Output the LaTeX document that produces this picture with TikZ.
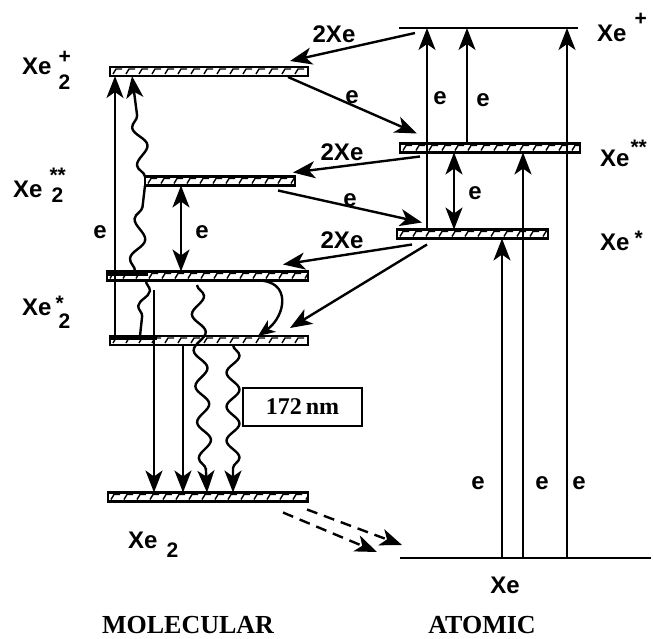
\documentclass[tikz,border=0pt]{standalone}
\usepackage{fontspec}
\newfontfamily\labfont{Liberation Sans}
\newfontfamily\headfont{Liberation Serif}
\usetikzlibrary{arrows.meta,decorations.pathmorphing}
\newcommand{\lift}[2]{\raisebox{#1}{\fontsize{21}{24}\selectfont #2}}
\tikzset{
  lvbar/.style={draw,line width=2.2pt,inner sep=0pt,outer sep=0pt,minimum height=9pt,
    path picture={\foreach \k in {0,...,15}{
      \draw[line width=1.4pt] ([xshift=\k*13pt+3pt,yshift=2pt]path picture bounding box.south west) -- ++(3pt,5pt) -- ++(6pt,0pt);}}},
  arr/.style={line width=2.4pt,-{Stealth[length=22pt,width=17pt,inset=6pt]}},
  darr/.style={line width=2.4pt,{Stealth[length=22pt,width=17pt,inset=6pt]}-{Stealth[length=22pt,width=17pt,inset=6pt]}},
  wave/.style={line width=2.4pt,decorate,decoration={snake,amplitude=6.5pt,segment length=36pt,post length=22pt}},
  lab/.style={font=\labfont\bfseries\fontsize{24}{28}\selectfont,inner sep=0pt},
  headline/.style={font=\headfont\bfseries\fontsize{26}{30}\selectfont,inner sep=0pt}
}
\begin{document}
\begin{tikzpicture}[x=1pt,y=-1pt]
\useasboundingbox (0,0) rectangle (653,639);

% molecular levels
\node[lvbar,minimum width=198pt] (mion) at (209,71.5) {};
\node[lvbar,minimum width=150pt] (mss) at (220,181) {};
\node[lvbar,minimum width=201pt] (msa) at (207.5,276) {};
\node[lvbar,minimum width=198pt] (msb) at (209,340.5) {};
\node[lvbar,minimum width=200pt] (mgr) at (208,497) {};
\draw[line width=4.5pt] (msa.north west) ++(0,-2pt) -- ++(41pt,0);
\draw[line width=4.5pt] (msb.north west) ++(0,-2pt) -- ++(47pt,0);

% atomic levels
\coordinate (ionl) at (399,28);
\coordinate (ionr) at (578,28);
\coordinate (gndl) at (400,558);
\coordinate (gndr) at (651,558);
\draw[line width=2.4pt] (ionl) -- (ionr);
\draw[line width=2.4pt] (gndl) -- (gndr);
\node[lvbar,minimum width=180pt] (axss) at (490,148) {};
\node[lvbar,minimum width=151pt] (axs) at (472.5,234) {};

% labels
\node[lab,anchor=base west] (lmion) at (22,75) {Xe\kern7pt\rlap{\lift{11pt}{+}}\lift{-15pt}{2}};
\node[lab,anchor=base west] (lmss) at (13,198) {Xe\kern7pt\rlap{\lift{15pt}{**}}\kern2pt\lift{-5pt}{2}};
\node[lab,anchor=base west] (lms) at (22,315) {Xe\kern4pt\rlap{\lift{5pt}{*}}\kern3pt\lift{-13pt}{2}};
\node[lab,anchor=base west] (lmgr) at (128,548) {Xe\kern9pt\lift{-9pt}{2}};
\node[lab,anchor=base west] (laion) at (597,42) {Xe\kern8pt\lift{16pt}{+}};
\node[lab,anchor=base west] (lass) at (600,167) {Xe\kern1pt\lift{12pt}{**}};
\node[lab,anchor=base west] (las) at (600,250) {Xe\kern5pt\lift{5pt}{*}};
\node[lab] (lagr) at (505,585) {Xe};
\node[headline] (hmol) at (188,625) {MOLECULAR};
\node[headline] (hat) at (482,625) {ATOMIC};
\node[draw,line width=2pt,minimum width=119pt,minimum height=38pt,inner sep=0pt,font=\headfont\bfseries\fontsize{24}{28}\selectfont] (nm) at (302.5,407) {172\,nm};

% molecular transitions
\draw[arr] (msb.north -| 115,0) -- (mion.south -| 115,0);
\node[lab] (e1) at (100,232) {e};
\draw[darr] (mss.south -| 181,0) -- (msa.north -| 181,0);
\node[lab] (e2) at (202,232) {e};
\draw[wave,decoration={segment length=40pt,post length=3pt}] (msa.north -| 135,0) -- (mss.south west);
\draw[wave,-{Stealth[length=22pt,width=17pt,inset=6pt]},decoration={segment length=38pt}] (mss.north west) -- (mion.south -| 132,0);
\draw[wave,decoration={amplitude=5pt,segment length=32pt,post length=8pt}] (msa.south -| 146,0) -- (msb.north -| 140,0);
\coordinate (d1) at (154,290);
\draw[arr] (d1) -- (mgr.north -| d1);
\draw[arr] (msb.south -| 183,0) -- (mgr.north -| 183,0);
\coordinate (w3) at (197,285);
\draw[wave,-{Stealth[length=22pt,width=17pt,inset=6pt]}] (w3) -- (mgr.north -| 207,0);
\draw[wave,-{Stealth[length=22pt,width=17pt,inset=6pt]},decoration={segment length=34pt}] (msb.south -| 233,0) -- (mgr.north -| 233,0);
\draw[line width=2.4pt,-{Stealth[length=17pt,width=14pt,inset=5pt]}] (msa.south -| 257,0) .. controls (292,280) and (286,316) .. (msb.north -| 258,0);

% atomic transitions
\draw[arr] (axs.north -| 427,0) -- (ionl -| 427,0);
\node[lab] (e3) at (440,98) {e};
\draw[arr] (axss.north -| 467,0) -- (ionl -| 467,0);
\node[lab] (e4) at (483,100) {e};
\draw[darr] (axss.south -| 454,0) -- (axs.north -| 454,0);
\node[lab] (e5) at (475,193) {e};
\draw[arr] (gndl -| 502,0) -- (axs.south -| 502,0);
\draw[arr] (gndl -| 523,0) -- (axss.south -| 523,0);
\draw[arr] (gndl -| 567,0) -- (ionl -| 567,0);
\node[lab] (e6) at (478,483) {e};
\node[lab] (e7) at (542,483) {e};
\node[lab] (e8) at (579,483) {e};

% between the two sides
\coordinate (t1) at (415,33);
\draw[arr] (t1) -- ([xshift=-18pt,yshift=6pt]mion.north east);
\node[lab] (x1) at (334,34) {2Xe};
\draw[arr] ([xshift=-20pt,yshift=-1pt]mion.south east) -- ([xshift=17pt,yshift=10pt]axss.north west);
\node[lab] (e9) at (352,97) {e};
\draw[arr] ([xshift=20pt,yshift=-4pt]axss.south west) -- ([xshift=-2pt,yshift=4pt]mss.north east);
\node[lab] (x2) at (342,152) {2Xe};
\draw[arr] ([xshift=-17pt,yshift=-5pt]mss.south east) -- ([xshift=25pt,yshift=7pt]axs.north west);
\node[lab] (e10) at (350,200) {e};
\draw[arr] ([xshift=15pt,yshift=-6pt]axs.south west) -- ([xshift=-25pt,yshift=7pt]msa.north east);
\node[lab] (x3) at (342,240) {2Xe};
\draw[arr] ([xshift=30pt,yshift=-6pt]axs.south west) -- ([xshift=-18pt,yshift=8pt]msb.north east);

% back to ground
\draw[arr,dash pattern=on 11pt off 7pt] ([xshift=-1pt,yshift=-8pt]mgr.south east) -- ([xshift=2pt,yshift=13pt]gndl);
\draw[arr,dash pattern=on 11pt off 7pt] ([xshift=-25pt,yshift=-11pt]mgr.south east) -- ([xshift=-23pt,yshift=6pt]gndl);
\end{tikzpicture}
\end{document}
